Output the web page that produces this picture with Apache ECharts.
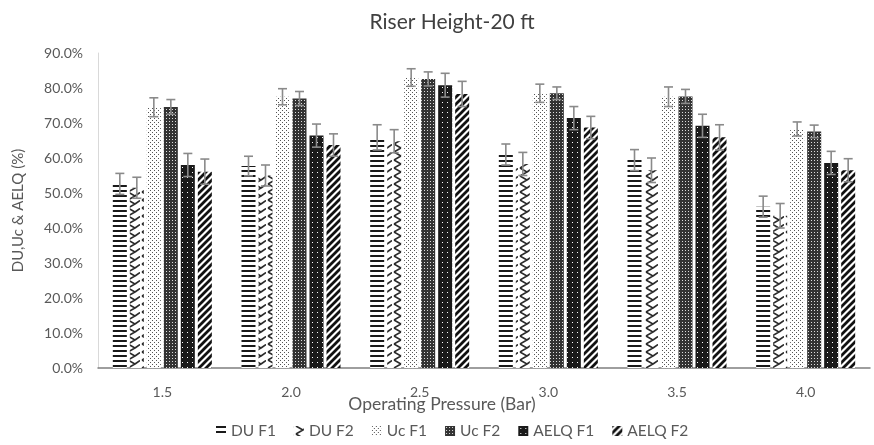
<!DOCTYPE html>
<html>
<head>
<meta charset="utf-8">
<script src="https://cdn.jsdelivr.net/npm/echarts@6/dist/echarts.min.js"></script>
<style>
html,body{margin:0;padding:0;background:#fff;}
#chart{width:874px;height:445px;}
</style>
</head>
<body>
<div id="chart"></div>
<script>
// ---- Data ----
var categories = ['1.5', '2.0', '2.5', '3.0', '3.5', '4.0'];
var seriesNames = ['DU F1', 'DU F2', 'Uc F1', 'Uc F2', 'AELQ F1', 'AELQ F2'];
var duF1 = [52.6, 57.7, 65.9, 61.0, 59.4, 46.1];
var duF2 = [51.5, 55.0, 64.8, 58.3, 56.5, 43.5];
var ucF1 = [74.5, 77.5, 83.0, 78.5, 77.5, 68.3];
var ucF2 = [74.6, 77.0, 82.6, 78.5, 77.6, 67.6];
var aelqF1 = [58.0, 66.4, 80.8, 71.4, 69.2, 58.6];
var aelqF2 = [56.1, 63.7, 78.3, 68.7, 65.9, 56.5];
var errDuF1 = [3.0, 2.8, 3.6, 3.0, 3.0, 3.0];
var errDuF2 = [3.0, 3.0, 3.3, 3.3, 3.5, 3.5];
var errUcF1 = [2.7, 2.3, 2.5, 2.6, 2.8, 2.0];
var errUcF2 = [2.1, 2.0, 2.0, 1.8, 2.0, 1.8];
var errAelqF1 = [3.3, 3.3, 3.4, 3.3, 3.3, 3.3];
var errAelqF2 = [3.6, 3.2, 3.6, 3.2, 3.6, 3.3];
var yTicks = [0, 10, 20, 30, 40, 50, 60, 70, 80, 90];

var values = [duF1, duF2, ucF1, ucF2, aelqF1, aelqF2];
var errors = [errDuF1, errDuF2, errUcF1, errUcF2, errAelqF1, errAelqF2];

// ---- Pattern fills ----
function tile(w, h, draw) {
  var c = document.createElement('canvas');
  c.width = w; c.height = h;
  var ctx = c.getContext('2d');
  ctx.fillStyle = '#fff';
  ctx.fillRect(0, 0, w, h);
  draw(ctx);
  return { image: c, repeat: 'repeat' };
}
var patterns = [
  tile(8, 5, function (ctx) { ctx.fillStyle = '#1a1a1a'; ctx.fillRect(0, 0, 8, 2); }),
  tile(14, 8, function (ctx) {
    ctx.strokeStyle = '#2a2a2a'; ctx.lineWidth = 1.6;
    ctx.beginPath();
    ctx.moveTo(2, 0); ctx.lineTo(9, 4); ctx.lineTo(2, 8);
    ctx.moveTo(9, 4); ctx.lineTo(14, 0.5);
    ctx.stroke();
  }),
  tile(4, 4, function (ctx) {
    ctx.fillStyle = '#555';
    ctx.fillRect(0, 0, 1, 1); ctx.fillRect(2, 2, 1, 1);
  }),
  tile(3, 3, function (ctx) {
    ctx.fillStyle = '#333'; ctx.fillRect(0, 0, 3, 3);
    ctx.fillStyle = '#ddd'; ctx.fillRect(1, 1, 1, 1);
  }),
  tile(5, 5, function (ctx) {
    ctx.fillStyle = '#1a1a1a'; ctx.fillRect(0, 0, 5, 5);
    ctx.fillStyle = '#fff'; ctx.fillRect(2, 2, 1, 1);
  }),
  tile(7, 7, function (ctx) {
    ctx.strokeStyle = '#111'; ctx.lineWidth = 2.8;
    ctx.beginPath();
    ctx.moveTo(-1, 8); ctx.lineTo(8, -1);
    ctx.moveTo(-8, 8); ctx.lineTo(1, -1);
    ctx.moveTo(6, 8); ctx.lineTo(15, -1);
    ctx.stroke();
  })
];

var BAR_W = 14, BAR_GAP = 3;

var series = seriesNames.map(function (name, i) {
  return {
    name: name,
    type: 'bar',
    barWidth: BAR_W,
    barGap: (BAR_GAP / BAR_W * 100) + '%',
    itemStyle: { color: patterns[i] },
    data: values[i],
    z: 2
  };
});

var errData = [];
for (var s = 0; s < values.length; s++) {
  for (var c = 0; c < categories.length; c++) {
    errData.push([c, s, values[s][c] - errors[s][c], values[s][c] + errors[s][c]]);
  }
}
series.push({
  type: 'custom',
  name: 'err',
  z: 5,
  silent: true,
  encode: { x: 0, y: [2, 3] },
  data: errData,
  renderItem: function (params, api) {
    var cat = api.value(0), si = api.value(1);
    var lo = api.coord([cat, api.value(2)]);
    var hi = api.coord([cat, api.value(3)]);
    var x = lo[0] + (si - 2.5) * (BAR_W + BAR_GAP);
    var cw = 4.5;
    var st = { stroke: '#8a8a8a', lineWidth: 1.6 };
    return {
      type: 'group',
      children: [
        { type: 'line', shape: { x1: x, y1: lo[1], x2: x, y2: hi[1] }, style: st },
        { type: 'line', shape: { x1: x - cw, y1: hi[1], x2: x + cw, y2: hi[1] }, style: st },
        { type: 'line', shape: { x1: x - cw, y1: lo[1], x2: x + cw, y2: lo[1] }, style: st }
      ]
    };
  }
});

var chart = echarts.init(document.getElementById('chart'), null, { renderer: 'canvas' });
chart.setOption({
  animation: false,
  backgroundColor: '#fff',
  textStyle: { fontFamily: 'Lato' },
  title: {
    text: 'Riser Height-20 ft',
    left: 447, textAlign: 'center',
    top: 7,
    textStyle: { fontSize: 21, fontWeight: 'normal', color: '#404040', fontFamily: 'Lato' }
  },
  legend: {
    data: seriesNames,
    bottom: 1,
    left: 211,
    itemWidth: 10, itemHeight: 10,
    itemGap: 18,
    icon: 'rect',
    textStyle: { fontSize: 15.5, color: '#595959', fontFamily: 'Lato' }
  },
  grid: { left: 98, right: 4, top: 53, bottom: 77, containLabel: false },
  xAxis: {
    type: 'category',
    data: categories,
    name: 'Operating Pressure (Bar)',
    nameLocation: 'middle',
    nameGap: 27,
    nameMoveOverlap: false,
    nameTextStyle: { fontSize: 17.5, color: '#595959', padding: [0, 84, 0, 0] },
    axisLine: { lineStyle: { color: '#7f7f7f', width: 1.5 } },
    axisTick: { show: false },
    axisLabel: { fontSize: 14, color: '#595959', margin: 17 }
  },
  yAxis: {
    type: 'value',
    min: yTicks[0], max: yTicks[yTicks.length - 1], interval: 10,
    name: 'DU,Uc & AELQ (%)',
    nameLocation: 'middle',
    nameGap: 72,
    nameMoveOverlap: false,
    nameTextStyle: { fontSize: 15, color: '#595959' },
    axisLine: { show: true, lineStyle: { color: '#d9d9d9' } },
    axisTick: { show: false },
    splitLine: { show: false },
    axisLabel: {
      fontSize: 14, color: '#595959', margin: 15,
      formatter: function (v) { return v.toFixed(1) + '%'; }
    }
  },
  series: series
});
</script>
</body>
</html>
